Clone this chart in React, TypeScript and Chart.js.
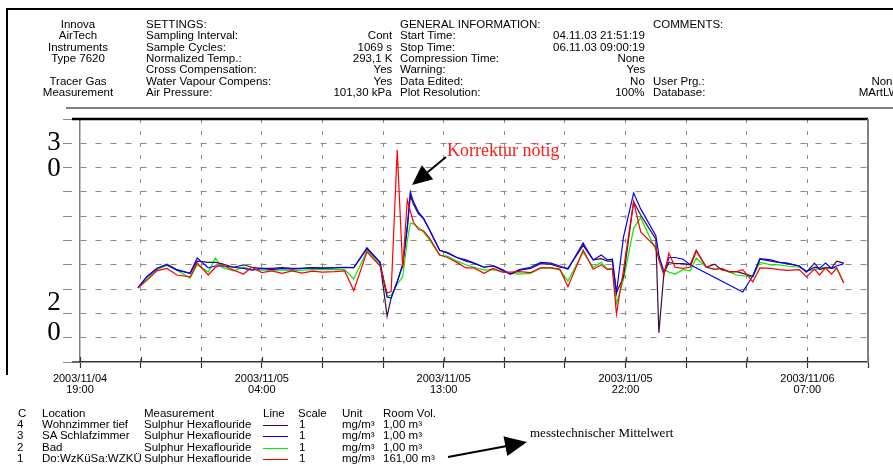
import React, { useEffect, useRef } from 'react';
import { Chart, registerables } from 'chart.js';

Chart.register(...registerables);

// ---------- data (hours after 2003/11/04 19:00) ----------
const HOURS = [
  2.87, 3.3, 3.8, 4.3, 4.8, 5.45, 5.8, 6.35, 6.7, 7.0,
  7.6, 8.1, 8.5, 9.0, 9.5, 10.0, 10.5, 11.0, 11.5, 12.0,
  12.6, 13.1, 13.55, 14.2, 14.85, 15.2, 15.4, 15.7, 15.97, 16.2,
  16.35, 16.5, 16.75, 17.0, 17.3, 17.8, 18.2, 18.65, 19.1, 19.5,
  20.0, 20.45, 20.9, 21.3, 21.75, 22.3, 22.8, 23.3, 23.75, 24.15,
  24.9, 25.4, 25.8, 26.1, 26.35, 26.55, 26.9, 27.4, 27.75, 28.5,
  28.65, 28.9, 29.15, 29.45, 29.85, 30.2, 30.5, 31.0, 31.4, 31.75,
  32.15, 32.5, 32.8, 33.3, 33.65, 34.2, 34.6, 35.0, 35.6, 35.95,
  36.35, 36.6, 36.9, 37.2, 37.45, 37.8,
];

// 4 Wohnzimmer tief
const WOHNZIMMER = [
  3.05, 3.5, 3.85, 4.03, 3.8, 3.65, 4.15, 4.1, 4.1, 4.05,
  3.9, 4.0, 3.9, 3.85, 3.85, 3.88, 3.85, 3.85, 3.88, 3.87,
  3.88, 3.9, 3.88, 4.65, 4.1, 1.88, 2.64, 3.3, 4.0, 5.5,
  6.85, 6.5, 6.1, 5.9, 5.43, 4.6, 4.48, 4.3, 4.15, 4.07,
  3.9, 3.95, 3.78, 3.62, 3.78, 3.85, 4.05, 4.03, 3.9, 3.85,
  4.8, 4.2, 4.25, 4.15, 4.15, 2.85, 3.5, 6.6, 6.05, 5.05,
  1.2, 3.66, 4.1, 4.05, 4.05, 4.0, 4.6, 3.9, 4.03, 3.8,
  3.72, 3.72, 3.65, 3.53, 4.23, 4.15, 4.1, 4.05, 3.95, 3.7,
  4.07, 3.8, 3.87, 3.87, 4.15, 4.07,
];

// 3 SA Schlafzimmer
const SCHLAFZIMMER = [
  3.05, 3.5, 3.85, 4.0, 3.78, 3.65, 4.28, 3.87, 3.95, 3.95,
  3.9, 3.85, 3.78, 3.85, 3.8, 3.85, 3.82, 3.85, 3.87, 3.85,
  3.87, 3.88, 3.88, 4.7, 4.1, 2.67, 2.63, 3.3, 4.0, 5.6,
  7.0, 6.6, 6.17, 5.92, 5.43, 4.6, 4.5, 4.3, 4.2, 4.07,
  3.9, 3.97, 3.8, 3.62, 3.8, 3.9, 4.1, 4.07, 3.95, 3.82,
  4.9, 4.2, 4.4, 4.2, 4.23, 2.85, 5.15, 6.95, 6.3, 5.2,
  4.4, 3.66, 4.3, 4.3, 4.23, 4.0, null, null, null, null,
  null, null, 2.88, 3.55, 4.25, 4.2, 4.1, 4.07, 3.95, 3.72,
  3.9, 3.85, 4.07, 3.85, 3.95, 4.05,
];

// 2 Bad
const BAD = [
  3.05, 3.4, 3.8, 3.97, 3.78, 3.45, 4.0, 3.7, 4.28, 3.9,
  3.75, 3.9, 3.8, 3.78, 3.78, 3.78, 3.76, 3.78, 3.8, 3.8,
  3.8, 3.8, 3.42, 4.57, 4.0, 2.7, 2.75, 3.2, 3.5, 5.0,
  5.72, 5.68, 5.55, 5.35, 5.02, 4.4, 4.35, 4.15, 4.0, 3.9,
  3.78, 3.8, 3.72, 3.65, 3.62, 3.65, 3.87, 3.88, 3.78, 3.33,
  4.52, 3.9, 4.1, 3.83, 3.85, 2.4, 3.4, 5.5, 5.95, 4.6,
  4.3, 3.8, 3.7, 3.62, 3.8, 3.75, 4.28, 3.9, 3.8, 3.85,
  3.7, 3.58, 3.55, 3.5, 4.1, 4.0, 4.0, 3.95, 3.9, 3.75,
  3.8, 3.85, 3.9, 3.85, 3.87, 3.25,
];

// 1 Do:WzKüSa:WZKÜ
const DOWZ = [
  3.05, 3.35, 3.75, 3.85, 3.58, 3.5, 4.07, 3.58, 3.9, 4.0,
  3.78, 3.62, 3.9, 3.68, 3.75, 3.65, 3.75, 3.66, 3.74, 3.7,
  3.72, 3.75, 2.94, 4.53, 3.95, 2.83, 2.9, 8.72, 3.85, 6.67,
  6.2, 5.76, 5.45, 5.4, 5.1, 4.4, 4.3, 4.1, 3.87, 3.87,
  3.65, 3.85, 3.7, 3.7, 3.72, 3.68, 3.87, 3.87, 3.82, 3.1,
  4.6, 3.82, 4.0, 3.8, 3.83, 1.97, 3.8, 6.6, 5.35, 4.73,
  4.2, 3.58, 4.48, 3.9, 3.85, 3.9, 4.56, 3.9, 3.82, 3.85,
  3.7, 3.72, 3.8, 3.3, 3.87, 3.85, 3.8, 3.77, 3.8, 3.5,
  3.82, 3.58, 3.87, 3.62, 3.87, 3.25,
];

const X_LABEL_HOURS = [0, 9, 18, 27, 36];
const X_LABEL_DATES = ['2003/11/04', '2003/11/05', '2003/11/05', '2003/11/05', '2003/11/06'];
const X_LABEL_TIMES = ['19:00', '04:00', '13:00', '22:00', '07:00'];

const Y_LABEL_TEXT = ['3', '0', '2', '0'];
const Y_LABEL_VALUES = [9.0, 7.93, 2.45, 1.2];

// ---------- header / legend texts ----------
const BRAND_LINES = ['Innova', 'AirTech', 'Instruments', 'Type 7620', '', 'Tracer Gas', 'Measurement'];
const SETTINGS_LABELS = ['SETTINGS:', 'Sampling Interval:', 'Sample Cycles:', 'Normalized Temp.:', 'Cross Compensation:', 'Water Vapour Compens:', 'Air Pressure:'];
const SETTINGS_VALUES = ['', 'Cont', '1069 s', '293,1 K', 'Yes', 'Yes', '101,30 kPa'];
const GENERAL_LABELS = ['GENERAL INFORMATION:', 'Start Time:', 'Stop Time:', 'Compression Time:', 'Warning:', 'Data Edited:', 'Plot Resolution:'];
const GENERAL_VALUES = ['', '04.11.03 21:51:19', '06.11.03 09:00:19', 'None', 'Yes', 'No', '100%'];
const COMMENT_LABELS = ['COMMENTS:', '', '', '', '', 'User Prg.:', 'Database:'];
const COMMENT_VALUES = ['', '', '', '', '', 'None', 'MArtLW'];

const LEGEND_CHANNELS = ['4', '3', '2', '1'];
const LEGEND_LOCATIONS = ['Wohnzimmer tief', 'SA Schlafzimmer', 'Bad', 'Do:WzKüSa:WZKÜ'];
const LEGEND_MEASUREMENT = 'Sulphur Hexaflouride';
const LEGEND_COLORS = ['#3a0b3c', '#0000ff', '#00ee00', '#ff0000'];
const LEGEND_SCALES = ['1', '1', '1', '1'];
const LEGEND_UNIT = 'mg/m³';
const LEGEND_ROOMVOL = ['1,00 m³', '1,00 m³', '1,00 m³', '161,00 m³'];

const ANNOTATION_TEXT = 'Korrektur nötig';
const NOTE_TEXT = 'messtechnischer Mittelwert';

const W = 893;
const H = 466;
const SANS = '"Liberation Sans", Arial, sans-serif';
const SERIF = '"Liberation Serif", "Times New Roman", serif';

type TP = { x: number; y: number; a?: 'l' | 'r' | 'c'; s?: number; sx?: number; f?: string; c?: string; children?: React.ReactNode };

function T({ x, y, a = 'l', s = 10, sx = 1.15, f = SANS, c = '#000', children }: TP) {
  const style: React.CSSProperties = {
    position: 'absolute',
    top: y - s * 0.5,
    whiteSpace: 'nowrap',
    fontSize: s,
    lineHeight: 1,
    fontFamily: f,
    color: c,
  };
  if (a === 'l') {
    style.left = x;
    style.transform = `scaleX(${sx})`;
    style.transformOrigin = 'left center';
  } else if (a === 'r') {
    style.right = W - x;
    style.transform = `scaleX(${sx})`;
    style.transformOrigin = 'right center';
  } else {
    style.left = x;
    style.transform = `translateX(-50%) scaleX(${sx})`;
  }
  return <div style={style}>{children}</div>;
}

const rowY = (i: number) => 25 + 11.35 * i;
const legY = (i: number) => 414 + 11.2 * i;

export default function App() {
  const ref = useRef<HTMLCanvasElement>(null);

  useEffect(() => {
    document.body.style.margin = '0';
    const canvas = ref.current;
    if (!canvas) return;
    const mk = (vals: (number | null)[]) => HOURS.map((h, i) => ({ x: h, y: vals[i] }));

    const framePlugin = {
      id: 'frame',
      afterDraw(chart: any) {
        const { ctx, chartArea, scales } = chart;
        const { left, right, top, bottom } = chartArea;
        const xs = scales.x;
        const ys = scales.y;
        ctx.save();
        ctx.setLineDash([]);
        ctx.strokeStyle = '#333';
        ctx.lineWidth = 1.2;
        xs.ticks.forEach((t: any) => {
          const px = Math.round(xs.getPixelForValue(t.value)) + 0.5;
          ctx.beginPath();
          ctx.moveTo(px, bottom - 5);
          ctx.lineTo(px, bottom);
          ctx.stroke();
        });
        ctx.strokeStyle = '#000';
        ctx.lineWidth = 2.5;
        ctx.beginPath();
        ctx.moveTo(left - 8, top);
        ctx.lineTo(right, top);
        ctx.stroke();
        ctx.strokeStyle = '#808080';
        ctx.lineWidth = 2;
        ctx.beginPath();
        ctx.moveTo(right, top);
        ctx.lineTo(right, bottom);
        ctx.stroke();
        ctx.strokeStyle = '#333';
        ctx.lineWidth = 1.5;
        ctx.beginPath();
        ctx.moveTo(left - 8, bottom);
        ctx.lineTo(left, bottom);
        ctx.stroke();
        ctx.fillStyle = '#000';
        ctx.font = `27px ${SERIF}`;
        ctx.textAlign = 'center';
        ctx.textBaseline = 'middle';
        Y_LABEL_TEXT.forEach((t, i) => {
          ctx.fillText(t, left - 26, ys.getPixelForValue(Y_LABEL_VALUES[i]));
        });
        ctx.restore();
      },
    };

    const ds = (label: string, vals: (number | null)[], color: string) => ({
      label,
      data: mk(vals),
      borderColor: color,
      backgroundColor: color,
      borderWidth: 1.2,
      pointRadius: 0,
      tension: 0,
      spanGaps: true,
      fill: false,
    });

    const chart = new Chart(canvas, {
      type: 'line',
      data: {
        datasets: [
          ds(LEGEND_LOCATIONS[3], DOWZ, LEGEND_COLORS[3]),
          ds(LEGEND_LOCATIONS[1], SCHLAFZIMMER, LEGEND_COLORS[1]),
          ds(LEGEND_LOCATIONS[0], WOHNZIMMER, LEGEND_COLORS[0]),
          ds(LEGEND_LOCATIONS[2], BAD, LEGEND_COLORS[2]),
        ] as any,
      },
      options: {
        animation: false,
        responsive: false,
        devicePixelRatio: 1,
        layout: { padding: { left: 0, top: 119, right: 25, bottom: 0 } },
        plugins: { legend: { display: false }, tooltip: { enabled: false } },
        scales: {
          x: {
            type: 'linear',
            min: 0,
            max: 39,
            afterFit: (s: any) => { s.height = 104; },
            grid: {
              color: (c: any) => (c.tick && (c.tick.value === 0 || c.tick.value === 39) ? 'rgba(0,0,0,0)' : '#8a8a8a'),
              lineWidth: 1,
              drawTicks: true,
              tickLength: 6,
              tickColor: '#333',
              tickWidth: 1.2,
            },
            border: { display: true, color: '#333', width: 1.5, dash: [4, 8] },
            ticks: {
              stepSize: 3,
              autoSkip: false,
              maxRotation: 0,
              minRotation: 0,
              padding: 5,
              color: '#000',
              font: { family: SANS, size: 11, lineHeight: 1 },
              callback: (v: any) => {
                const i = X_LABEL_HOURS.indexOf(Number(v));
                return i >= 0 ? [X_LABEL_DATES[i], X_LABEL_TIMES[i]] : '';
              },
            },
          },
          y: {
            min: 0,
            max: 10,
            afterFit: (s: any) => { s.width = 80; },
            grid: {
              color: (c: any) => (c.tick && (c.tick.value === 0 || c.tick.value === 10) ? 'rgba(0,0,0,0)' : '#8a8a8a'),
              lineWidth: 1,
              drawTicks: true,
              tickLength: 17,
              tickColor: '#8a8a8a',
              tickBorderDash: [9, 20],
            },
            border: { display: true, color: '#808080', width: 1.5, dash: [6, 9] },
            ticks: { stepSize: 1, callback: () => '' },
          },
        },
      } as any,
      plugins: [framePlugin],
    });
    return () => chart.destroy();
  }, []);

  return (
    <div style={{ position: 'fixed', left: 0, top: 0, width: W, height: H, background: '#fff', overflow: 'hidden' }}>
      <canvas ref={ref} width={W} height={H} style={{ position: 'absolute', left: 0, top: 0, width: W, height: H }} />
      <div style={{ position: 'absolute', inset: 0, pointerEvents: 'none' }}>
        {/* frame lines */}
        <div style={{ position: 'absolute', left: 6, top: 8, width: W - 6, height: 2, background: '#000' }} />
        <div style={{ position: 'absolute', left: 6, top: 8, width: 2, height: 367, background: '#000' }} />
        <div style={{ position: 'absolute', left: 66, top: 107, width: W - 66, height: 2, background: '#808080' }} />

        {/* header */}
        {BRAND_LINES.map((t, i) => t && <T key={'b' + i} x={78} y={rowY(i)} a="c">{t}</T>)}
        {SETTINGS_LABELS.map((t, i) => t && <T key={'sl' + i} x={146} y={rowY(i)}>{t}</T>)}
        {SETTINGS_VALUES.map((t, i) => t && <T key={'sv' + i} x={392} y={rowY(i)} a="r">{t}</T>)}
        {GENERAL_LABELS.map((t, i) => t && <T key={'gl' + i} x={400} y={rowY(i)}>{t}</T>)}
        {GENERAL_VALUES.map((t, i) => t && <T key={'gv' + i} x={645} y={rowY(i)} a="r">{t}</T>)}
        {COMMENT_LABELS.map((t, i) => t && <T key={'cl' + i} x={653} y={rowY(i)}>{t}</T>)}
        {COMMENT_VALUES.map((t, i) => t && <T key={'cv' + i} x={899} y={rowY(i)} a="r">{t}</T>)}

        {/* annotations */}
        <T x={447} y={150} s={18} sx={1} f={SERIF} c="#ff1a1a">{ANNOTATION_TEXT}</T>
        <T x={530} y={432} s={13} sx={1} f={SERIF}>{NOTE_TEXT}</T>
        <svg width={W} height={H} style={{ position: 'absolute', left: 0, top: 0 }}>
          <line x1={446} y1={157} x2={423} y2={176} stroke="#000" strokeWidth={2} />
          <polygon points="412,185 433.2,179.3 421.8,165.3" fill="#000" />
          <line x1={448} y1={457} x2={507} y2={446} stroke="#000" strokeWidth={2} />
          <polygon points="527,442 507.3,455.9 503.5,436.3" fill="#000" />
        </svg>

        {/* legend table */}
        <T x={18} y={legY(0)}>C</T>
        <T x={42} y={legY(0)}>Location</T>
        <T x={144} y={legY(0)}>Measurement</T>
        <T x={263} y={legY(0)}>Line</T>
        <T x={298} y={legY(0)}>Scale</T>
        <T x={342} y={legY(0)}>Unit</T>
        <T x={383} y={legY(0)}>Room Vol.</T>
        {LEGEND_CHANNELS.map((c, i) => (
          <React.Fragment key={'lg' + i}>
            <T x={17} y={legY(i + 1)}>{c}</T>
            <T x={42} y={legY(i + 1)}>{LEGEND_LOCATIONS[i]}</T>
            <T x={144} y={legY(i + 1)}>{LEGEND_MEASUREMENT}</T>
            <div style={{ position: 'absolute', left: 263, top: Math.round(legY(i + 1)), width: 25, height: 1, background: LEGEND_COLORS[i] }} />
            <T x={299} y={legY(i + 1)}>{LEGEND_SCALES[i]}</T>
            <T x={342} y={legY(i + 1)}>{LEGEND_UNIT}</T>
            <T x={383} y={legY(i + 1)}>{LEGEND_ROOMVOL[i]}</T>
          </React.Fragment>
        ))}
      </div>
    </div>
  );
}
